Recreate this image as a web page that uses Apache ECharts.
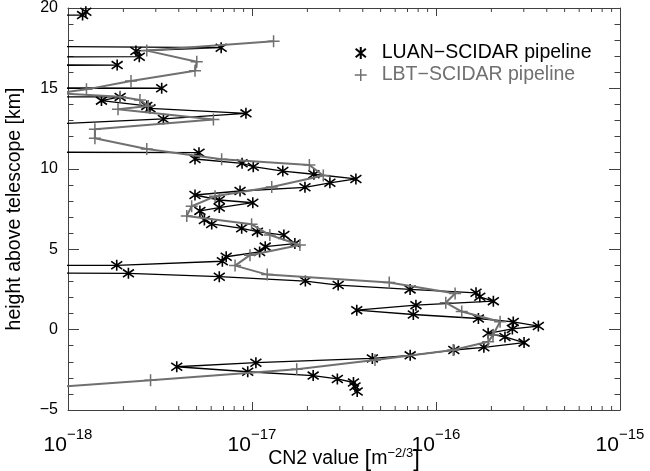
<!DOCTYPE html>
<html><head><meta charset="utf-8">
<script src="https://cdn.jsdelivr.net/npm/echarts@6/dist/echarts.min.js"></script>
<style>html,body{margin:0;padding:0;background:#fff}#c{width:650px;height:471px}</style>
</head><body><div id="c"></div>
<script>
// LUAN-SCIDAR pipeline (black asterisks), height [km] and CN2 value
const luanHeight = [19.77, 19.56, 18.5, 17.53, 17.33, 16.97, 16.7, 16.45, 15.7, 15.01, 14.7, 14.47, 14.24, 13.91, 13.76, 13.45, 13.10, 12.3, 11.5, 11.00, 10.61, 10.34, 10.13, 9.86, 9.66, 9.37, 9.13, 8.85, 8.62, 8.37, 8.06, 7.89, 7.59, 7.38, 6.82, 6.57, 6.30, 6.09, 5.88, 5.35, 5.16, 4.83, 4.53, 4.25, 4.00, 3.75, 3.50, 3.29, 3.02, 2.77, 2.50, 2.29, 2.04, 1.77, 1.52, 1.21, 0.94, 0.69, 0.48, 0.22, 0.04, -0.23, -0.46, -0.81, -1.10, -1.27, -1.60, -1.79, -2.06, -2.31, -2.62, -2.86, -3.07, -3.29, -3.54, -3.85];
const luanCn2 = [1.25e-18, 1.20e-18, 1e-30, 6.8e-18, 2.34e-18, 2.44e-18, 1e-30, 1.85e-18, 1e-30, 3.23e-18, 1e-30, 1.92e-18, 1.52e-18, 2.68e-18, 2.79e-18, 9.27e-18, 3.30e-18, 1e-19, 1e-30, 5.15e-18, 4.90e-18, 8.83e-18, 1.016e-17, 1.47e-17, 2.17e-17, 3.67e-17, 2.65e-17, 1.94e-17, 8.61e-18, 4.90e-18, 6.64e-18, 1.01e-17, 6.64e-18, 5.21e-18, 5.51e-18, 6.04e-18, 8.79e-18, 1.07e-17, 1.49e-17, 1.71e-17, 1.18e-17, 1.10e-17, 7.24e-18, 6.90e-18, 1.84e-18, 1e-30, 2.13e-18, 6.64e-18, 1.95e-17, 2.94e-17, 7.23e-17, 1.65e-16, 1.73e-16, 2.05e-16, 7.78e-17, 3.71e-17, 7.53e-17, 1.70e-16, 2.63e-16, 3.60e-16, 2.60e-16, 1.92e-16, 2.37e-16, 3.01e-16, 1.82e-16, 1.25e-16, 7.24e-17, 4.51e-17, 1.05e-17, 3.90e-18, 9.48e-18, 2.15e-17, 2.91e-17, 3.56e-17, 3.63e-17, 3.73e-17];
// LBT-SCIDAR pipeline (grey crosses)
const lbtHeight = [17.93, 17.35, 16.66, 16.10, 15.46, 14.94, 14.70, 14.48, 14.28, 13.91, 13.70, 13.07, 12.46, 11.90, 11.23, 10.59, 10.24, 9.58, 8.87, 8.29, 7.67, 7.07, 6.55, 5.88, 5.26, 4.63, 3.98, 3.42, 2.93, 2.25, 1.67, 1.12, 0.49, -0.34, -0.76, -1.27, -1.89, -2.46, -3.15, -3.90];
const lbtCn2 = [1.31e-17, 2.68e-18, 5.01e-18, 4.90e-18, 2.20e-18, 1.26e-18, 8.7e-19, 1.92e-18, 2.46e-18, 2.73e-18, 1.87e-18, 6.17e-18, 1.40e-18, 1.40e-18, 2.68e-18, 6.84e-18, 2.05e-17, 2.44e-17, 1.28e-17, 6.30e-18, 4.70e-18, 4.42e-18, 9.95e-18, 1.25e-17, 1.82e-17, 9.75e-18, 8.09e-18, 1.21e-17, 5.57e-17, 1.27e-16, 1.13e-16, 1.38e-16, 2.23e-16, 2.04e-16, 1.92e-16, 1.24e-16, 4.66e-17, 1.75e-17, 2.81e-18, 3.5e-19];
const seriesNames = ['LUAN\u2212SCIDAR pipeline', 'LBT\u2212SCIDAR pipeline'];
const xMin = 1e-18, xMax = 1e-15;
const yMin = -5, yMax = 20, yStep = 5;
const minorMult = [2, 3, 4, 5, 6, 7, 8, 9];
const decades = [1e-18, 1e-17, 1e-16];

const minorVals = [];
decades.forEach(d => minorMult.forEach(m => minorVals.push([m * d, 0])));

const FONT = 'Liberation Sans';
const AXC = '#404040';
const GREY = '#707070';
const asterisk = 'path://M0,-1L0,1M-0.85,-0.7L0.85,0.7M-0.85,0.7L0.85,-0.7';
const plus = 'path://M-1,0L1,0M0,-1L0,1';

const chart = echarts.init(document.getElementById('c'), null, {renderer: 'canvas'});
const fmtExp = v => {
  const e = Math.round(Math.log10(v));
  return '{b|10}{s|' + (e < 0 ? '\u2212' : '') + Math.abs(e) + '}';
};
const baseX = {
  type: 'log', logBase: 10, min: xMin, max: xMax,
  axisLine: {show: true, onZero: false, lineStyle: {color: AXC, width: 1}},
  axisTick: {show: true, inside: true, length: 8, lineStyle: {color: AXC}},
  minorTick: {show: false},
  splitLine: {show: false}
};
const baseY = {
  type: 'value', min: yMin, max: yMax, interval: yStep,
  axisLine: {show: true, onZero: false, lineStyle: {color: AXC, width: 1}},
  axisTick: {show: true, inside: true, length: 11, lineStyle: {color: AXC}},
  minorTick: {show: true, splitNumber: 5, length: 5.5, lineStyle: {color: AXC}},
  splitLine: {show: false}
};
chart.setOption({
  animation: false,
  backgroundColor: '#fff',
  grid: {left: 68, right: 30, top: 8, bottom: 61, containLabel: false, outerBoundsMode: 'none'},
  legend: {
    orient: 'vertical', left: 349, top: 38, itemGap: 2,
    itemWidth: 32, itemHeight: 12, symbolKeepAspect: true,
    textStyle: {fontFamily: FONT, fontSize: 19.5},
    data: [
      {name: seriesNames[0], icon: asterisk, textStyle: {color: '#000'},
       itemStyle: {color: '#000', borderColor: '#000', borderWidth: 2}},
      {name: seriesNames[1], icon: plus, textStyle: {color: GREY},
       itemStyle: {color: GREY, borderColor: GREY, borderWidth: 1.5}}
    ]
  },
  xAxis: [
    Object.assign({}, baseX, {
      position: 'bottom',
      name: '{a|CN2 value }{br|[}{a|m}{s|\u22122/3}{br|]}',
      nameLocation: 'middle', nameGap: 37, nameMoveOverlap: false,
      nameTextStyle: {fontFamily: FONT, color: '#000',
        rich: {a: {fontFamily: FONT, fontSize: 19.5, color: '#000', lineHeight: 24},
               br: {fontFamily: FONT, fontSize: 24, color: '#000', lineHeight: 24},
               s: {fontFamily: FONT, fontSize: 13, color: '#000', verticalAlign: 'top'}}},
      axisLabel: {show: true, margin: 17, formatter: fmtExp, color: '#000',
        rich: {b: {fontFamily: FONT, fontSize: 21, color: '#000', lineHeight: 36},
               s: {fontFamily: FONT, fontSize: 15, color: '#000', verticalAlign: 'top'}}}
    }),
    Object.assign({}, baseX, {position: 'top', axisLabel: {show: false}})
  ],
  yAxis: [
    Object.assign({}, baseY, {
      position: 'left',
      name: 'height above telescope [km]', nameLocation: 'middle', nameGap: 43, nameRotate: 90,
      nameMoveOverlap: false,
      nameTextStyle: {fontFamily: FONT, fontSize: 19.5, color: '#000'},
      axisLabel: {show: true, margin: 10, fontFamily: FONT, fontSize: 16, color: '#000',
        formatter: v => (v < 0 ? '\u2212' + Math.abs(v) : String(v))}
    }),
    Object.assign({}, baseY, {position: 'right', axisLabel: {show: false}})
  ],
  series: [
    {
      name: seriesNames[0], type: 'line', xAxisIndex: 0, yAxisIndex: 0,
      data: luanCn2.map((v, i) => [v, luanHeight[i]]),
      symbol: asterisk, symbolSize: 11,
      lineStyle: {color: '#000', width: 1.3},
      itemStyle: {color: '#000', borderColor: '#000', borderWidth: 1.6},
      clip: true, z: 3
    },
    {
      name: seriesNames[1], type: 'line', xAxisIndex: 0, yAxisIndex: 0,
      data: lbtCn2.map((v, i) => [v, lbtHeight[i]]),
      symbol: plus, symbolSize: 12,
      lineStyle: {color: GREY, width: 2},
      itemStyle: {color: GREY, borderColor: GREY, borderWidth: 1.5},
      clip: true, z: 4
    },
    {
      type: 'custom', xAxisIndex: 0, yAxisIndex: 0, silent: true, clip: false,
      data: minorVals,
      renderItem: (params, api) => {
        const v = api.value(0);
        const b = api.coord([v, yMin]);
        const t = api.coord([v, yMax]);
        const st = {stroke: AXC, lineWidth: 1};
        return {type: 'group', children: [
          {type: 'line', shape: {x1: b[0], y1: b[1], x2: b[0], y2: b[1] - 4}, style: st},
          {type: 'line', shape: {x1: t[0], y1: t[1], x2: t[0], y2: t[1] + 4}, style: st}
        ]};
      }
    }
  ]
});
</script></body></html>
